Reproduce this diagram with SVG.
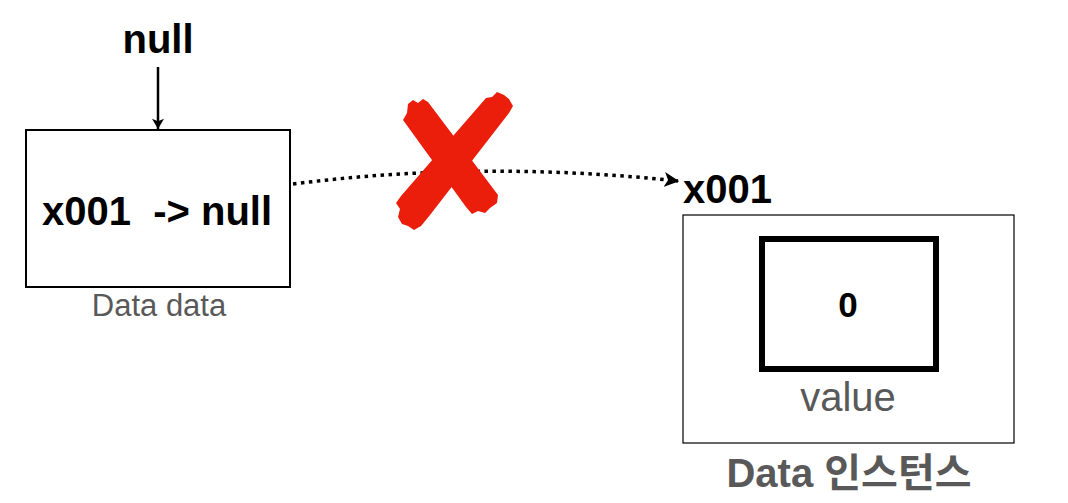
<svg xmlns="http://www.w3.org/2000/svg" width="1068" height="503" viewBox="0 0 1068 503">
  <style>
    .bold { font-family: "Liberation Sans", Arial, sans-serif; font-weight: bold; fill: #000; }
    .label { font-family: "Liberation Sans", Arial, sans-serif; fill: #595959; }
    .cjk { font-family: "Liberation Sans", "Noto Sans CJK KR", sans-serif; font-weight: bold; fill: #595959; }
    .box { fill: #fff; stroke: #000; }
  </style>
  <defs>
    <marker id="arrow" viewBox="0 0 12 14" refX="12" refY="7" markerWidth="14" markerHeight="12" markerUnits="userSpaceOnUse" orient="auto">
      <path d="M0,0 L12,7 L0,14 L3,7 Z" fill="#000"/>
    </marker>
    <marker id="arrowDot" viewBox="0 0 12 12" refX="11" refY="6" markerWidth="15" markerHeight="15" markerUnits="userSpaceOnUse" orient="auto">
      <path d="M0,0 L12,6 L0,12 L3,6 Z" fill="#000"/>
    </marker>
  </defs>
  <rect width="1068" height="503" fill="#fff"/>

  <!-- reference variable -->
  <g id="var-data">
    <rect class="box" x="26" y="130" width="264" height="157" stroke-width="2"/>
    <text class="bold" x="42" y="225" font-size="40" xml:space="preserve">x001  -&gt; null</text>
    <text class="label" x="159" y="316" font-size="31" text-anchor="middle">Data data</text>
  </g>

  <g id="null-label">
    <text class="bold" x="158" y="53" font-size="40" text-anchor="middle">null</text>
  </g>

  <!-- instance in heap -->
  <g id="data-instance">
    <text class="bold" x="683" y="203" font-size="40">x001</text>
    <rect class="box" x="683" y="215" width="331" height="228" stroke-width="1.2"/>
    <rect class="box" x="762" y="239" width="174" height="130" stroke-width="6"/>
    <text class="bold" x="848" y="317" font-size="35" text-anchor="middle">0</text>
    <text class="label" x="848" y="411" font-size="40" text-anchor="middle">value</text>
    <text class="cjk" x="849" y="487" font-size="40" text-anchor="middle">Data 인스턴스</text>
  </g>

  <!-- connectors -->
  <g id="connectors">
    <line x1="158" y1="67" x2="158" y2="129" stroke="#000" stroke-width="2.5" marker-end="url(#arrow)"/>
    <path d="M293,184 Q480,160 678,181" fill="none" stroke="#000" stroke-width="3.5" stroke-dasharray="3.5 4.5" marker-end="url(#arrowDot)"/>
  </g>

  <!-- red cross mark -->
  <g id="cross" fill="#EB1E0C">
    <path d="M408,104 L413,100 L418,103 L423,99 L428,102 L498,195 L497,203 L490,208 L485,213 L478,211 L472,214 L466,207 L403,120 L407,113 Z"/>
    <path d="M497,92 L504,95 L509,99 L513,106 L509,113 L430,215 L421,226 L414,230 L408,226 L402,224 L398,217 L400,209 L396,203 L401,196 L486,98 L492,97 Z"/>
  </g>
</svg>
